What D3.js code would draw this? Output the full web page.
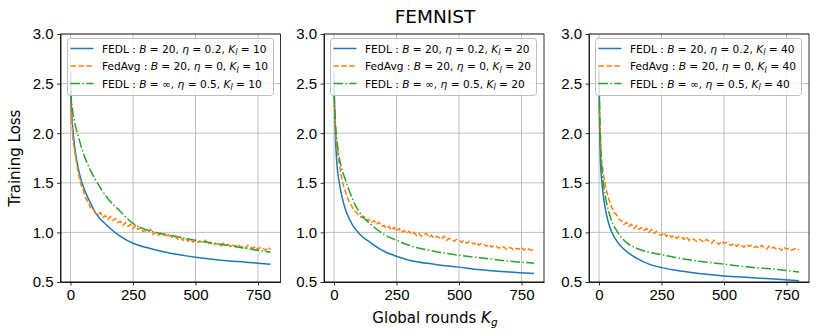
<!DOCTYPE html>
<meta charset="utf-8">
<style>
  body { margin: 0; background: #fff; }
  svg { font-family: "DejaVu Sans", sans-serif; }
  .tick text { font-size: 15px; fill: #000; }
  .tick line, .domain { stroke: #000; stroke-width: 0.8; }
</style>
<body>
<div id="chart"></div>
<script src="https://d3js.org/d3.v7.min.js"></script>
<script>

// rounds for the noisy FedAvg curves (every 10 global rounds)
var rounds = d3.range(0, 801, 10);
var smoothRounds = [0, 3, 6, 10, 15, 20, 30, 40, 50, 75, 100, 150, 200, 250, 300, 400, 500, 600, 700, 800];

var localIters = [10, 20, 40];
var yTicks = [0.5, 1.0, 1.5, 2.0, 2.5, 3.0];
var xTicks = [0, 250, 500, 750];

// FEDL : B = 20, eta = 0.2
var fedlK10 = [2.62, 2.30, 2.15, 2.02, 1.90, 1.80, 1.66, 1.55, 1.47, 1.32, 1.20, 1.06, 0.96, 0.89, 0.85, 0.79, 0.75, 0.72, 0.70, 0.68];
var fedlK20 = [2.60, 2.20, 1.95, 1.75, 1.60, 1.52, 1.38, 1.28, 1.20, 1.07, 0.99, 0.89, 0.81, 0.76, 0.72, 0.68, 0.65, 0.62, 0.60, 0.585];
var fedlK40 = [2.60, 2.00, 1.70, 1.55, 1.42, 1.32, 1.18, 1.08, 1.01, 0.90, 0.83, 0.74, 0.68, 0.645, 0.62, 0.585, 0.56, 0.545, 0.53, 0.512];

// FEDL : B = inf, eta = 0.5
var fedlInfK10 = [2.42, 2.35, 2.28, 2.20, 2.13, 2.07, 1.98, 1.89, 1.81, 1.65, 1.53, 1.34, 1.21, 1.09, 1.03, 0.97, 0.92, 0.88, 0.84, 0.80];
var fedlInfK20 = [2.40, 2.25, 2.10, 1.97, 1.86, 1.77, 1.65, 1.57, 1.50, 1.33, 1.21, 1.075, 0.98, 0.92, 0.87, 0.81, 0.77, 0.74, 0.71, 0.69];
var fedlInfK40 = [2.65, 2.20, 1.90, 1.70, 1.55, 1.45, 1.30, 1.20, 1.12, 1.00, 0.92, 0.84, 0.80, 0.775, 0.75, 0.71, 0.68, 0.65, 0.63, 0.60];

// FedAvg : B = 20, eta = 0
var fedavgK10 = [2.30,1.93,1.76,1.62,1.50,1.43,1.35,1.31,1.25,1.24,1.19,1.18,1.20,1.15,1.17,1.13,1.16,1.12,1.14,1.10,
  1.11,1.07,1.10,1.06,1.08,1.04,1.07,1.03,1.05,1.01,1.02,1.00,1.03,0.98,1.00,0.97,0.99,0.96,0.98,0.95,
  0.97,0.94,0.96,0.93,0.95,0.92,0.94,0.91,0.93,0.90,0.92,0.90,0.91,0.89,0.92,0.88,0.90,0.87,0.89,0.88,
  0.86,0.89,0.87,0.88,0.85,0.87,0.86,0.88,0.85,0.86,0.84,0.87,0.85,0.84,0.86,0.83,0.85,0.84,0.82,0.85,0.83];
var fedavgK20 = [2.30,1.90,1.71,1.56,1.45,1.38,1.31,1.27,1.22,1.20,1.17,1.15,1.16,1.12,1.13,1.10,1.12,1.08,1.10,1.06,
  1.07,1.04,1.06,1.02,1.05,1.01,1.04,1.00,1.02,0.99,1.01,0.98,1.00,0.97,0.99,0.96,0.98,0.99,0.95,0.97,
  0.94,0.96,0.95,0.93,0.96,0.92,0.94,0.93,0.91,0.93,0.92,0.90,0.92,0.89,0.91,0.90,0.88,0.90,0.87,0.89,
  0.88,0.86,0.88,0.85,0.87,0.86,0.84,0.86,0.85,0.83,0.85,0.84,0.82,0.84,0.83,0.85,0.82,0.84,0.83,0.82,0.83];
var fedavgK40 = [2.30,1.74,1.55,1.42,1.33,1.26,1.20,1.18,1.13,1.12,1.08,1.10,1.06,1.08,1.04,1.07,1.03,1.05,1.02,1.04,
  1.00,1.03,0.99,1.01,0.98,0.97,1.00,0.96,0.98,0.95,0.97,0.94,0.96,0.95,0.93,0.96,0.92,0.94,0.93,0.91,
  0.93,0.92,0.90,0.93,0.91,0.89,0.92,0.90,0.88,0.91,0.89,0.90,0.88,0.87,0.89,0.86,0.88,0.87,0.85,0.88,
  0.86,0.87,0.85,0.86,0.84,0.87,0.85,0.83,0.86,0.84,0.85,0.83,0.84,0.82,0.85,0.83,0.84,0.82,0.83,0.84,0.82];

var panels = [
  {kl: localIters[0], fedl: fedlK10, fedavg: fedavgK10, fedlInf: fedlInfK10},
  {kl: localIters[1], fedl: fedlK20, fedavg: fedavgK20, fedlInf: fedlInfK20},
  {kl: localIters[2], fedl: fedlK40, fedavg: fedavgK40, fedlInf: fedlInfK40}
];

var W = 830, H = 336;
var panelLeft = [60.5, 324, 589], panelW = 220;
var plotTop = 34, plotBottom = 282;

var svg = d3.select("#chart").append("svg")
  .attr("width", W).attr("height", H);

var y = d3.scaleLinear().domain([0.5, 3.0]).range([plotBottom, plotTop]);

var series = [
  {key: "fedl", x: smoothRounds, color: "#1f77b4", dash: null, name: "FEDL", B: "20", eta: "0.2"},
  {key: "fedavg", x: rounds, color: "#ff7f0e", dash: "5.5,2.4", name: "FedAvg", B: "20", eta: "0"},
  {key: "fedlInf", x: smoothRounds, color: "#2ca02c", dash: "9.6,2.4,1.5,2.4", name: "FEDL", B: "\u221e", eta: "0.5"}
];

var legendLayer = [];

panels.forEach(function(p, i) {
  var x0 = panelLeft[i];
  var x = d3.scaleLinear().domain([-40, 840]).range([x0, x0 + panelW]);
  var g = svg.append("g");

  svg.append("clipPath").attr("id", "clip" + i)
    .append("rect").attr("x", x0).attr("y", plotTop).attr("width", panelW).attr("height", plotBottom - plotTop);

  // grid
  g.selectAll(".gx").data(xTicks).enter().append("line")
    .attr("x1", function(d) { return x(d); }).attr("x2", function(d) { return x(d); })
    .attr("y1", plotTop).attr("y2", plotBottom)
    .attr("stroke", "#b0b0b0").attr("stroke-width", 0.8);
  g.selectAll(".gy").data(yTicks).enter().append("line")
    .attr("x1", x0).attr("x2", x0 + panelW)
    .attr("y1", function(d) { return y(d); }).attr("y2", function(d) { return y(d); })
    .attr("stroke", "#b0b0b0").attr("stroke-width", 0.8);

  // lines
  var lines = g.append("g").attr("clip-path", "url(#clip" + i + ")");
  series.forEach(function(s) {
    var vals = p[s.key];
    var pts = s.x.map(function(r, j) { return [r, vals[j]]; });
    var line = d3.line()
      .x(function(d) { return x(d[0]); })
      .y(function(d) { return y(d[1]); })
      .curve(s.key == "fedavg" ? d3.curveLinear : d3.curveMonotoneX);
    lines.append("path")
      .attr("d", line(pts))
      .attr("fill", "none")
      .attr("stroke", s.color)
      .attr("stroke-width", 1.5)
      .attr("stroke-dasharray", s.dash);
  });

  // axes
  g.append("g").attr("transform", "translate(0," + plotBottom + ")")
    .call(d3.axisBottom(x).tickValues(xTicks).tickSize(3.5).tickPadding(3.5).tickSizeOuter(0));
  g.append("g").attr("transform", "translate(" + x0 + ",0)")
    .call(d3.axisLeft(y).tickValues(yTicks).tickFormat(d3.format(".1f")).tickSize(3.5).tickPadding(3.5).tickSizeOuter(0));
  g.append("rect").attr("x", x0).attr("y", plotTop).attr("width", panelW).attr("height", plotBottom - plotTop)
    .attr("fill", "none").attr("stroke", "#000").attr("stroke-width", 0.8);

  legendLayer.push({p: p, x0: x0});
});

// legends, drawn on top of everything
var legends = svg.append("g").attr("class", "legends");
legendLayer.forEach(function(L) {
  var lx = Math.round(L.x0 + 6) + 0.5, ly = 38.5;
  var leg = legends.append("g");
  leg.append("path")
    .attr("d", "M" + (lx + 3) + "," + ly + "h200a3,3 0 0 1 3,3v51a3,3 0 0 1 -3,3h-200a3,3 0 0 1 -3,-3v-51a3,3 0 0 1 3,-3z")
    .attr("fill", "#ffffff").attr("fill-opacity", 0.8)
    .attr("stroke", "#bdbdbd").attr("stroke-width", 1);
  series.forEach(function(s, k) {
    var cy = ly + 10 + k * 17.5;
    leg.append("line").attr("x1", lx + 3).attr("x2", lx + 26)
      .attr("y1", cy).attr("y2", cy)
      .attr("stroke", s.color).attr("stroke-width", 1.5).attr("stroke-dasharray", s.dash);
    var t = leg.append("text").attr("x", lx + 34.5).attr("y", cy + 4).style("font-size", "10.6px");
    var parts = [
      {t: s.name + " : "}, {t: "B", it: 1}, {t: " = " + s.B + ", "},
      {t: "\u03b7", it: 1}, {t: " = " + s.eta + ", "},
      {t: "K", it: 1}, {t: "l", it: 1, sub: 1}, {t: " = " + L.p.kl, after: 1}
    ];
    parts.forEach(function(q) {
      var ts = t.append("tspan").text(q.t);
      if (q.it) ts.style("font-style", "italic");
      if (q.sub) ts.attr("dy", 2.5).style("font-size", "8px");
      if (q.after) ts.attr("dy", -2.5);
    });
  });
});

// titles
svg.append("text").attr("x", 435).attr("y", 22.5).attr("text-anchor", "middle")
  .style("font-size", "18.5px").text("FEMNIST");

svg.append("text").attr("transform", "translate(20," + ((plotTop + plotBottom) / 2) + ") rotate(-90)")
  .attr("text-anchor", "middle").style("font-size", "15px").text("Training Loss");

var xl = svg.append("text").attr("x", 435).attr("y", 323).attr("text-anchor", "middle").style("font-size", "15px");
xl.append("tspan").text("Global rounds ");
xl.append("tspan").text("K").style("font-style", "italic");
xl.append("tspan").text("g").attr("dy", 3).style("font-size", "10.5px").style("font-style", "italic");

</script>
</body>
